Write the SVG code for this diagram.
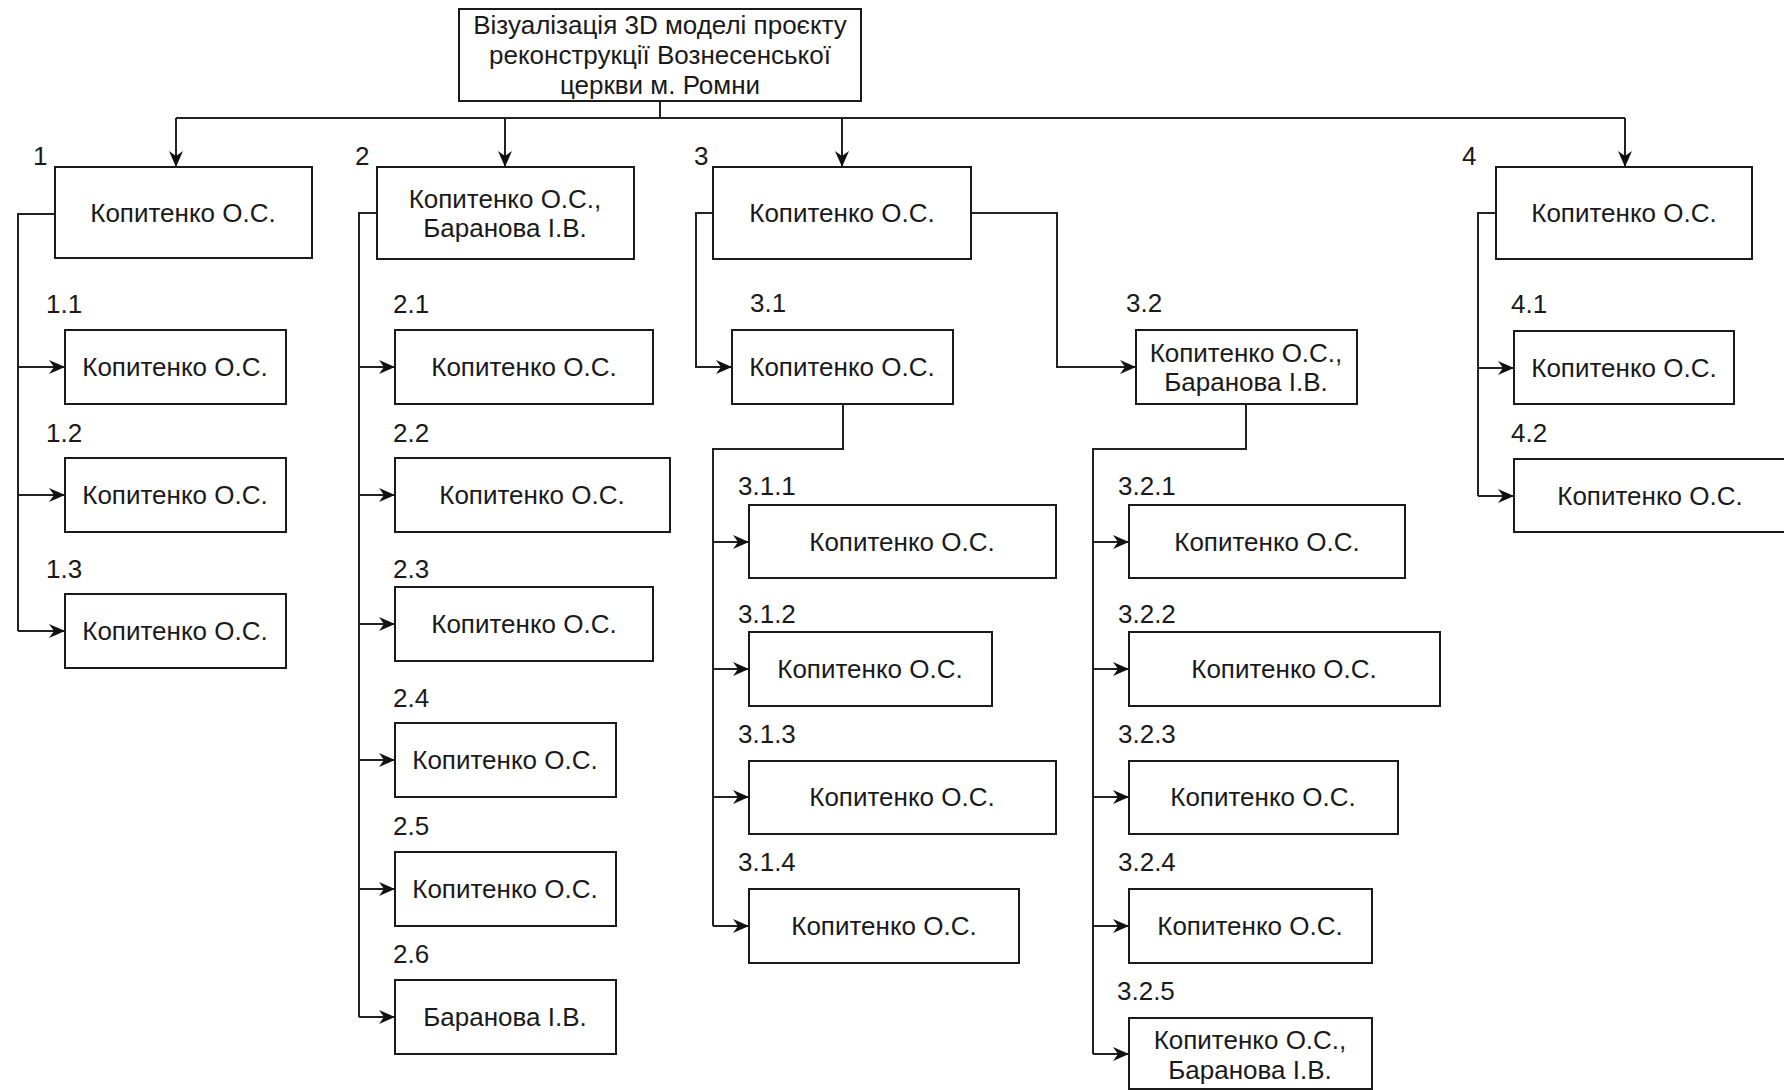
<svg xmlns="http://www.w3.org/2000/svg" width="1784" height="1090" viewBox="0 0 1784 1090">
<style>
.box{fill:#fff;stroke:#1a1a1a;stroke-width:2}
.t{font-family:"Liberation Sans",Arial,sans-serif;font-size:26px;fill:#1a1a1a;text-anchor:middle}
.lbl{font-family:"Liberation Sans",Arial,sans-serif;font-size:26px;fill:#1a1a1a;text-anchor:start}
.w{fill:none;stroke:#222;stroke-width:2}
.a{marker-end:url(#arr)}
</style>
<defs>
<marker id="arr" markerUnits="userSpaceOnUse" markerWidth="16" markerHeight="14" refX="16" refY="7" orient="auto">
<path d="M0,0 L16,7 L0,14 L5,7 z" fill="#111"/>
</marker>
</defs>
<rect width="1784" height="1090" fill="#fff"/>
<g id="connectors">
<path class="w" d="M660,101 V118 M176,118 H1625"/>
<path class="w a" d="M176,118 V167"/>
<path class="w a" d="M505,118 V167"/>
<path class="w a" d="M842,118 V167"/>
<path class="w a" d="M1625,118 V167"/>
<path class="w" d="M55,214 H18 V631"/>
<path class="w a" d="M18,367 H65"/>
<path class="w a" d="M18,495 H65"/>
<path class="w a" d="M18,631 H65"/>
<path class="w" d="M377,213 H359 V1017"/>
<path class="w a" d="M359,367 H395"/>
<path class="w a" d="M359,495 H395"/>
<path class="w a" d="M359,624 H395"/>
<path class="w a" d="M359,760 H395"/>
<path class="w a" d="M359,889 H395"/>
<path class="w a" d="M359,1017 H395"/>
<path class="w a" d="M713,213 H696 V367 H732"/>
<path class="w a" d="M971,213 H1057 V367 H1136"/>
<path class="w" d="M843,404 V449 H713 V926"/>
<path class="w a" d="M713,542 H749"/>
<path class="w a" d="M713,669 H749"/>
<path class="w a" d="M713,797 H749"/>
<path class="w a" d="M713,926 H749"/>
<path class="w" d="M1246,404 V449 H1093 V1054"/>
<path class="w a" d="M1093,542 H1129"/>
<path class="w a" d="M1093,669 H1129"/>
<path class="w a" d="M1093,797 H1129"/>
<path class="w a" d="M1093,926 H1129"/>
<path class="w a" d="M1093,1054 H1129"/>
<path class="w" d="M1496,213 H1478 V496"/>
<path class="w a" d="M1478,368 H1514"/>
<path class="w a" d="M1478,496 H1514"/>
</g>
<g id="root"><rect class="box" x="459" y="9" width="402" height="92"/>
<text class="t" x="660" y="34">Візуалізація 3D моделі проєкту</text>
<text class="t" x="660" y="64">реконструкції Вознесенської</text>
<text class="t" x="660" y="94">церкви м. Ромни</text></g>
<g id="n1"><rect class="box" x="55" y="167" width="257" height="91"/><text class="lbl" x="33" y="165">1</text><text class="t" x="183" y="222">Копитенко О.С.</text></g>
<g id="n2"><rect class="box" x="377" y="167" width="257" height="92"/><text class="lbl" x="355" y="165">2</text><text class="t" x="505" y="208">Копитенко О.С.,</text><text class="t" x="505" y="237">Баранова І.В.</text></g>
<g id="n3"><rect class="box" x="713" y="167" width="258" height="92"/><text class="lbl" x="694" y="165">3</text><text class="t" x="842" y="222">Копитенко О.С.</text></g>
<g id="n4"><rect class="box" x="1496" y="167" width="256" height="92"/><text class="lbl" x="1462" y="165">4</text><text class="t" x="1624" y="222">Копитенко О.С.</text></g>
<g id="n1_1"><rect class="box" x="65" y="330" width="221" height="74"/><text class="lbl" x="46" y="313">1.1</text><text class="t" x="175" y="376">Копитенко О.С.</text></g>
<g id="n1_2"><rect class="box" x="65" y="458" width="221" height="74"/><text class="lbl" x="46" y="442">1.2</text><text class="t" x="175" y="504">Копитенко О.С.</text></g>
<g id="n1_3"><rect class="box" x="65" y="594" width="221" height="74"/><text class="lbl" x="46" y="578">1.3</text><text class="t" x="175" y="640">Копитенко О.С.</text></g>
<g id="n2_1"><rect class="box" x="395" y="330" width="258" height="74"/><text class="lbl" x="393" y="313">2.1</text><text class="t" x="524" y="376">Копитенко О.С.</text></g>
<g id="n2_2"><rect class="box" x="395" y="458" width="275" height="74"/><text class="lbl" x="393" y="442">2.2</text><text class="t" x="532" y="504">Копитенко О.С.</text></g>
<g id="n2_3"><rect class="box" x="395" y="587" width="258" height="74"/><text class="lbl" x="393" y="578">2.3</text><text class="t" x="524" y="633">Копитенко О.С.</text></g>
<g id="n2_4"><rect class="box" x="395" y="723" width="221" height="74"/><text class="lbl" x="393" y="707">2.4</text><text class="t" x="505" y="769">Копитенко О.С.</text></g>
<g id="n2_5"><rect class="box" x="395" y="852" width="221" height="74"/><text class="lbl" x="393" y="835">2.5</text><text class="t" x="505" y="898">Копитенко О.С.</text></g>
<g id="n2_6"><rect class="box" x="395" y="980" width="221" height="74"/><text class="lbl" x="393" y="963">2.6</text><text class="t" x="505" y="1026">Баранова І.В.</text></g>
<g id="n3_1"><rect class="box" x="732" y="330" width="221" height="74"/><text class="lbl" x="750" y="312">3.1</text><text class="t" x="842" y="376">Копитенко О.С.</text></g>
<g id="n3_2"><rect class="box" x="1136" y="330" width="221" height="74"/><text class="lbl" x="1126" y="312">3.2</text><text class="t" x="1246" y="362">Копитенко О.С.,</text><text class="t" x="1246" y="391">Баранова І.В.</text></g>
<g id="n3_1_1"><rect class="box" x="749" y="505" width="307" height="73"/><text class="lbl" x="738" y="495">3.1.1</text><text class="t" x="902" y="551">Копитенко О.С.</text></g>
<g id="n3_1_2"><rect class="box" x="749" y="632" width="243" height="74"/><text class="lbl" x="738" y="623">3.1.2</text><text class="t" x="870" y="678">Копитенко О.С.</text></g>
<g id="n3_1_3"><rect class="box" x="749" y="761" width="307" height="73"/><text class="lbl" x="738" y="743">3.1.3</text><text class="t" x="902" y="806">Копитенко О.С.</text></g>
<g id="n3_1_4"><rect class="box" x="749" y="889" width="270" height="74"/><text class="lbl" x="738" y="871">3.1.4</text><text class="t" x="884" y="935">Копитенко О.С.</text></g>
<g id="n3_2_1"><rect class="box" x="1129" y="505" width="276" height="73"/><text class="lbl" x="1118" y="495">3.2.1</text><text class="t" x="1267" y="551">Копитенко О.С.</text></g>
<g id="n3_2_2"><rect class="box" x="1129" y="632" width="311" height="74"/><text class="lbl" x="1118" y="623">3.2.2</text><text class="t" x="1284" y="678">Копитенко О.С.</text></g>
<g id="n3_2_3"><rect class="box" x="1129" y="761" width="269" height="73"/><text class="lbl" x="1118" y="743">3.2.3</text><text class="t" x="1263" y="806">Копитенко О.С.</text></g>
<g id="n3_2_4"><rect class="box" x="1129" y="889" width="243" height="74"/><text class="lbl" x="1118" y="871">3.2.4</text><text class="t" x="1250" y="935">Копитенко О.С.</text></g>
<g id="n3_2_5"><rect class="box" x="1129" y="1018" width="243" height="71"/><text class="lbl" x="1117" y="1000">3.2.5</text><text class="t" x="1250" y="1049">Копитенко О.С.,</text><text class="t" x="1250" y="1079">Баранова І.В.</text></g>
<g id="n4_1"><rect class="box" x="1514" y="331" width="220" height="73"/><text class="lbl" x="1511" y="313">4.1</text><text class="t" x="1624" y="377">Копитенко О.С.</text></g>
<g id="n4_2"><rect class="box" x="1514" y="459" width="272" height="73"/><text class="lbl" x="1511" y="442">4.2</text><text class="t" x="1650" y="505">Копитенко О.С.</text></g>
</svg>
